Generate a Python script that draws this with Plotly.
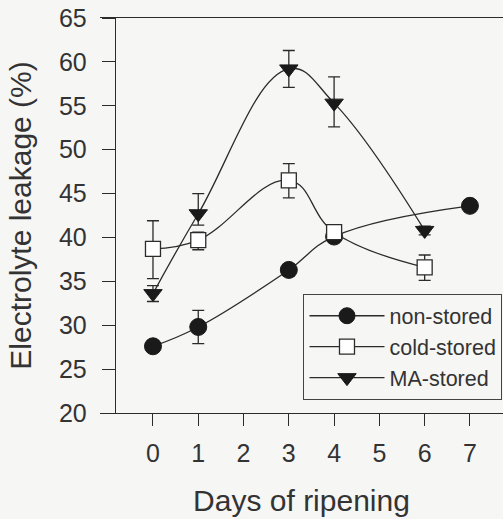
import plotly.graph_objects as go

# Data
days_non = [0, 1, 3, 4, 7]
non_stored = [27.6, 29.8, 36.3, 40.1, 43.6]
non_err_plus = [0.4, 1.9, 0.7, 0.6, 0.4]
non_err_minus = [0.4, 1.9, 0.7, 0.6, 0.4]

days_cold = [0, 1, 3, 4, 6]
cold_stored = [38.7, 39.7, 46.5, 40.6, 36.6]
cold_err_plus = [3.2, 0.9, 1.9, 0.7, 1.4]
cold_err_minus = [3.4, 1.1, 2.0, 0.7, 1.5]

days_ma = [0, 1, 3, 4, 6]
ma_stored = [33.6, 42.7, 59.2, 55.3, 40.8]
ma_err_plus = [0.9, 2.3, 2.1, 3.0, 0.5]
ma_err_minus = [0.9, 1.3, 2.1, 2.7, 0.5]

x_ticks = [0, 1, 2, 3, 4, 5, 6, 7]
y_ticks = [20, 25, 30, 35, 40, 45, 50, 55, 60, 65]

ink = "#2b2b2b"
font_family = "Liberation Sans, Arial, sans-serif"

def err(plus, minus):
    return dict(type="data", symmetric=False, array=plus, arrayminus=minus,
                color=ink, thickness=1.3, width=6)

fig = go.Figure()
fig.add_trace(go.Scatter(
    x=days_non, y=non_stored, name="non-stored", mode="lines+markers",
    line=dict(color=ink, width=1.3, shape="spline", smoothing=1.2),
    marker=dict(symbol="circle", size=17, color="#1a1a1a", line=dict(color="#1a1a1a", width=1)),
    error_y=err(non_err_plus, non_err_minus)))
fig.add_trace(go.Scatter(
    x=days_cold, y=cold_stored, name="cold-stored", mode="lines+markers",
    line=dict(color=ink, width=1.3, shape="spline", smoothing=1.2),
    marker=dict(symbol="square", size=15, color="white", line=dict(color=ink, width=1.3)),
    error_y=err(cold_err_plus, cold_err_minus)))
fig.add_trace(go.Scatter(
    x=days_ma, y=ma_stored, name="MA-stored", mode="lines+markers",
    line=dict(color=ink, width=1.3, shape="spline", smoothing=1.2),
    marker=dict(symbol="triangle-down", size=16, color="#1a1a1a", line=dict(color="#1a1a1a", width=1)),
    error_y=err(ma_err_plus, ma_err_minus)))

fig.update_layout(
    width=503, height=519,
    margin=dict(l=100, r=0, t=18, b=106),
    paper_bgcolor="#f6f6f4", plot_bgcolor="#f6f6f4",
    font=dict(family=font_family, size=25, color="#333333"),
    showlegend=True,
    legend=dict(x=0.998, y=0.033, xanchor="right", yanchor="bottom",
                bordercolor="#444444", borderwidth=1.3, bgcolor="#f6f6f4",
                font=dict(size=21.5, color="#333333"), itemwidth=75,
                tracegroupgap=0),
    xaxis=dict(range=[-1.17, 7.73], tickvals=x_ticks, ticks="outside", ticklen=12,
               tickwidth=1.3, tickcolor=ink, showline=True, linecolor=ink, linewidth=1.3,
               mirror=True, showgrid=False, zeroline=False, ticklabelstandoff=6,
               title=dict(text="Days of ripening", standoff=23)),
    yaxis=dict(range=[20, 65], tickvals=y_ticks, ticks="outside", ticklen=13,
               tickwidth=1.3, tickcolor=ink, showline=True, linecolor=ink, linewidth=1.3,
               anchor="free", position=0.037, showgrid=False, zeroline=False,
               ticklabelstandoff=10,
               title=dict(text="Electrolyte leakage (%)", standoff=17)),
)

fig.write_html("out.html")
